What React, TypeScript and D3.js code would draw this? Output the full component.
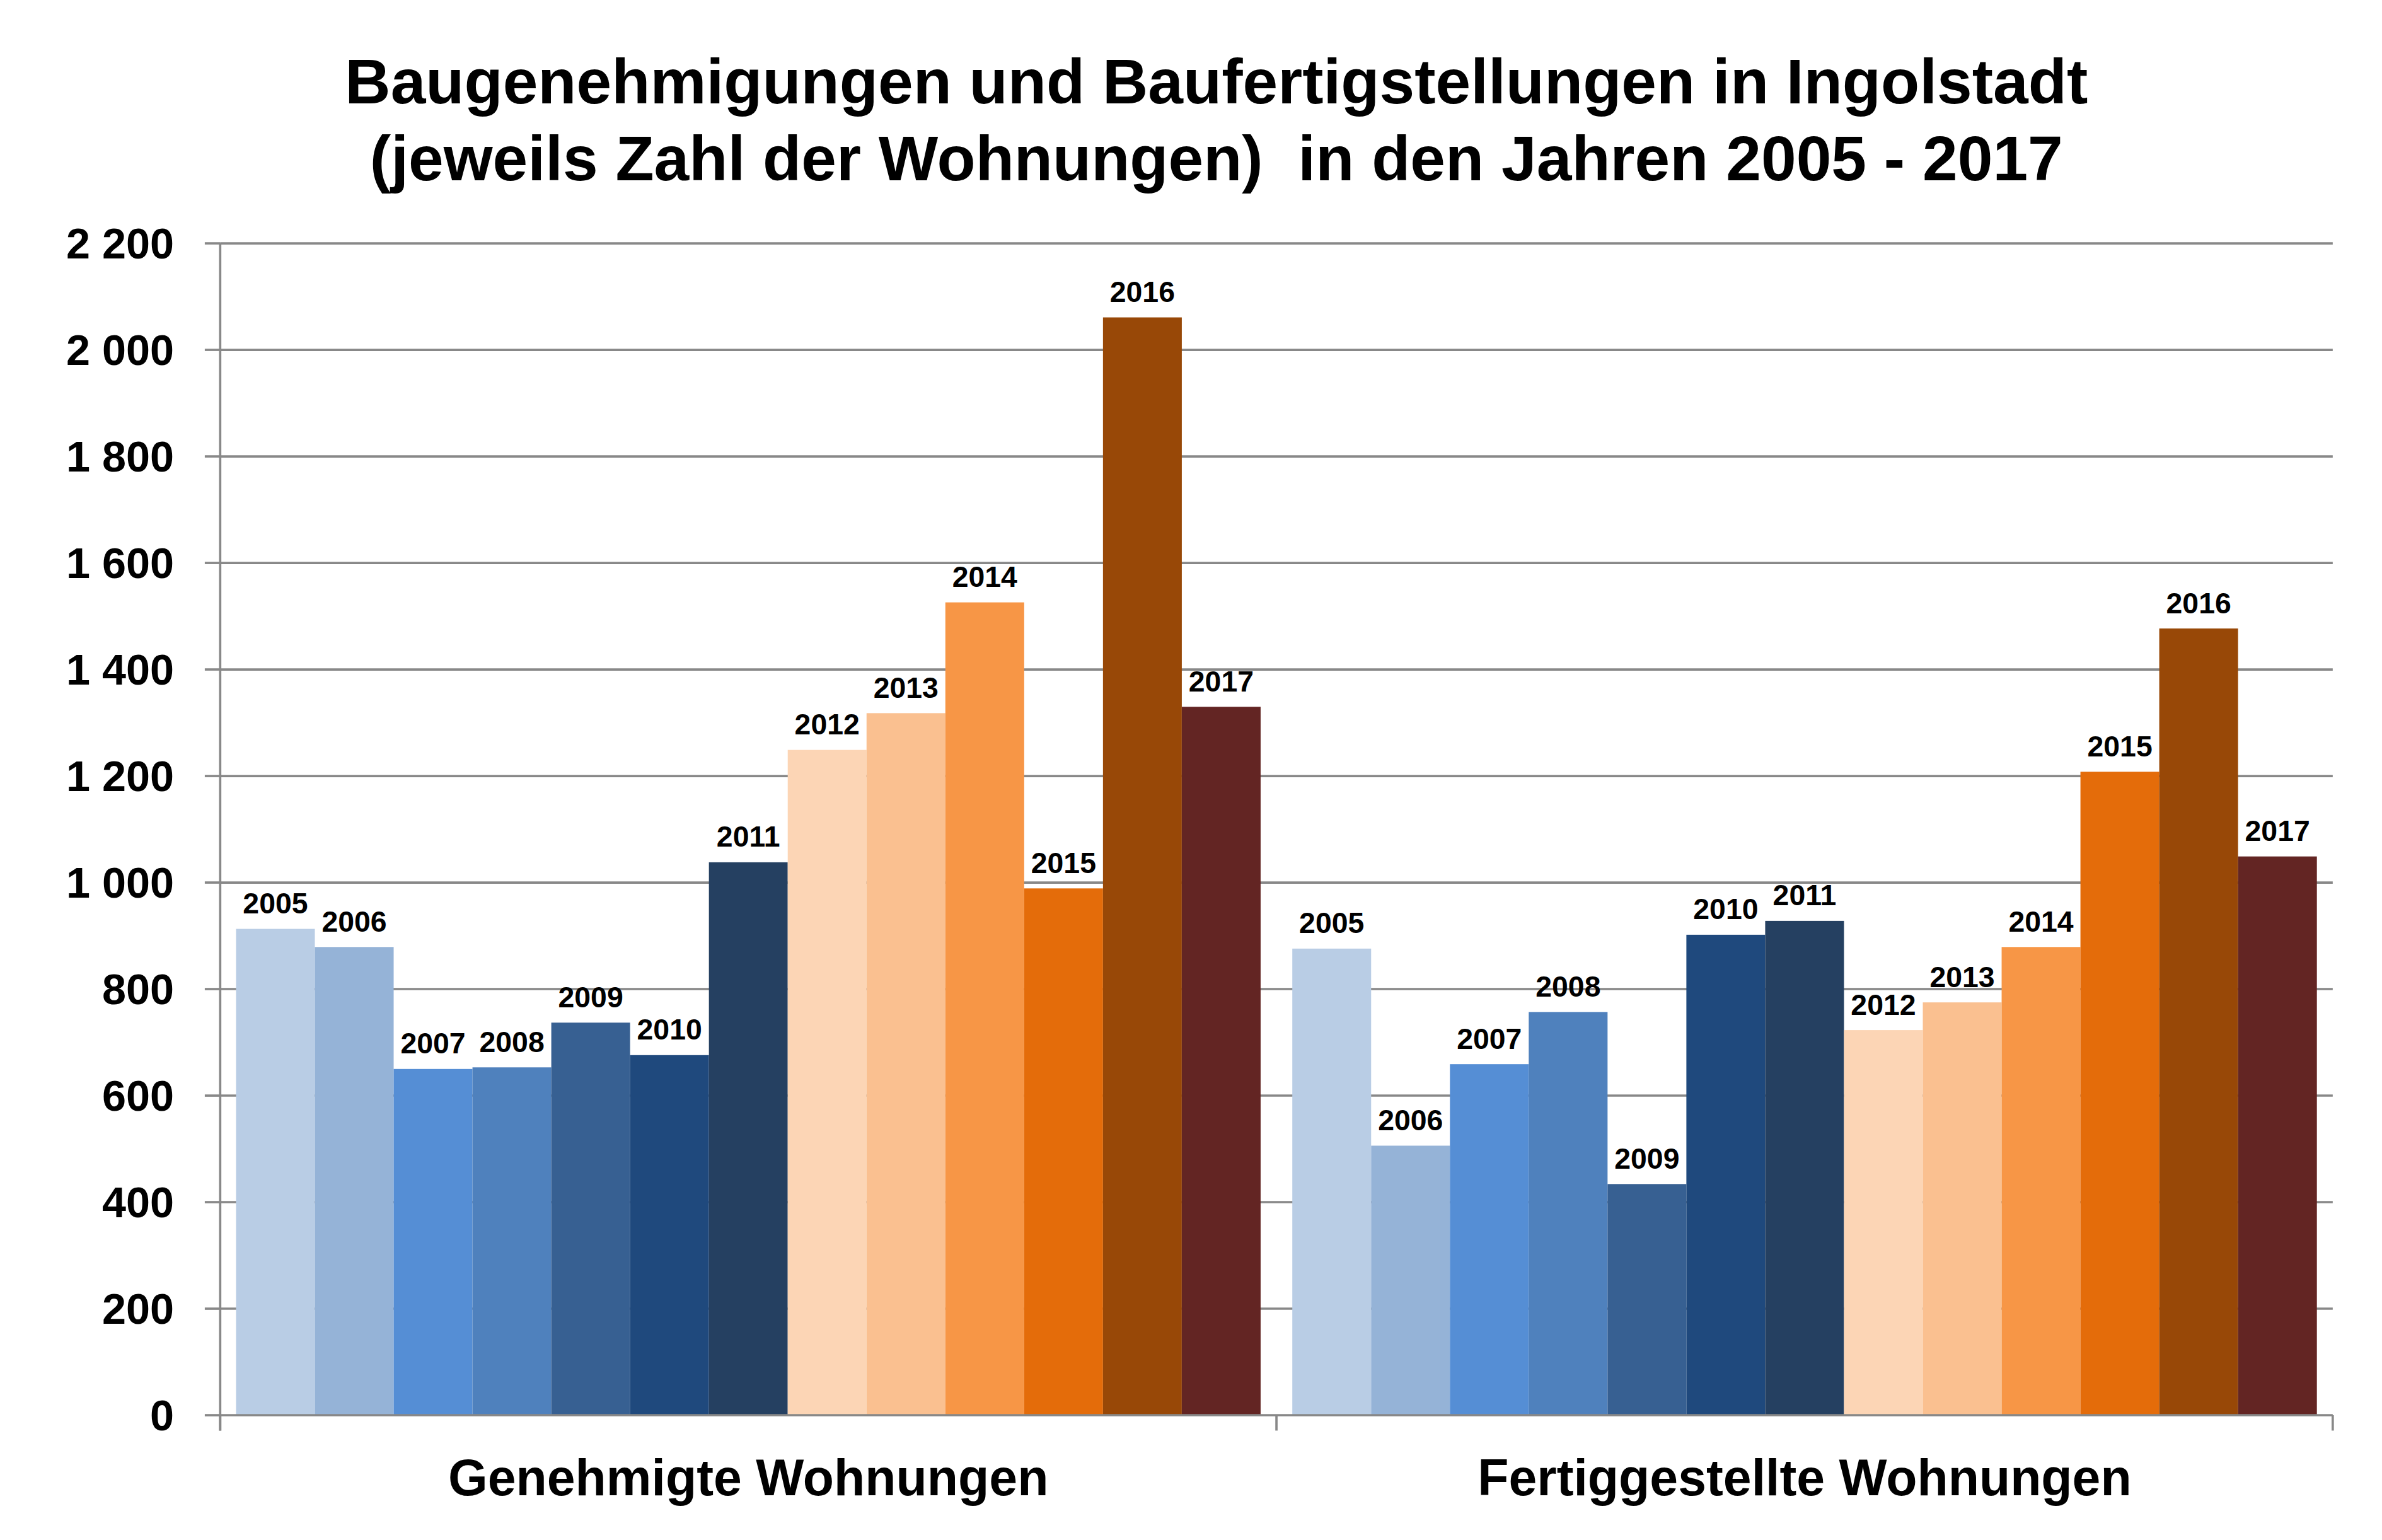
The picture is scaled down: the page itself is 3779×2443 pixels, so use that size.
import React from "react";
import * as d3 from "d3";

const categories = ["Genehmigte Wohnungen", "Fertiggestellte Wohnungen"];
const years = ["2005", "2006", "2007", "2008", "2009", "2010", "2011", "2012", "2013", "2014", "2015", "2016", "2017"];
const genehmigt = [913, 879, 650, 653, 737, 676, 1038, 1249, 1318, 1526, 989, 2061, 1330];
const fertig = [876, 506, 659, 757, 434, 902, 928, 723, 775, 879, 1208, 1477, 1049];
const colors = ["#b9cde5", "#95b3d7", "#558ed5", "#4f81bd", "#376092", "#1f497d", "#254061",
  "#fcd5b5", "#fac090", "#f79646", "#e46c0a", "#984807", "#632523"];
const yTicks = [0, 200, 400, 600, 800, 1000, 1200, 1400, 1600, 1800, 2000, 2200];

const W = 1547, H = 1000;
const left = 143, right = 1515, top = 158, bottom = 919;

const App: React.FC = () => {
  const series = [genehmigt, fertig];
  const x0 = d3.scaleBand<string>().domain(categories).range([left, right]).paddingInner(0.03).paddingOuter(0.015);
  const x1 = d3.scaleBand<string>().domain(years).range([0, x0.bandwidth()]);
  const y = d3.scaleLinear().domain([0, 2200]).range([bottom, top]);
  const fmt = (v: number) => (v >= 1000 ? `${Math.floor(v / 1000)} ${String(v % 1000).padStart(3, "0")}` : `${v}`);
  const font = "'Liberation Sans', Arial, sans-serif";

  return (
    <svg viewBox={`0 0 ${W} ${H}`} width={3779} height={2443}
      style={{ position: "absolute", left: 0, top: 0, background: "#fff" }} fontFamily={font}>
      <text x={790} y={67} textAnchor="middle" fontSize={41} fontWeight="bold">Baugenehmigungen und Baufertigstellungen in Ingolstadt</text>
      <text x={790} y={117} textAnchor="middle" fontSize={41} fontWeight="bold" style={{ whiteSpace: "pre" }}>(jeweils Zahl der Wohnungen)  in den Jahren 2005 - 2017</text>
      {yTicks.map((t) => (
        <g key={t}>
          {t > 0 && <line x1={left} x2={right} y1={y(t)} y2={y(t)} stroke="#888" strokeWidth={1.5} />}
          <line x1={left - 10} x2={left} y1={y(t)} y2={y(t)} stroke="#888" strokeWidth={1.5} />
          <text x={113} y={y(t) + 10} textAnchor="end" fontSize={28} fontWeight="bold">{fmt(t)}</text>
        </g>
      ))}
      {categories.map((c, ci) => (
        <g key={c} transform={`translate(${x0(c)},0)`}>
          {series[ci].map((v, i) => (
            <g key={years[i]}>
              <rect x={x1(years[i])} y={y(v)} width={x1.bandwidth()} height={bottom - y(v)} fill={colors[i]} />
              <text x={(x1(years[i]) as number) + x1.bandwidth() / 2} y={y(v) - 10} textAnchor="middle" fontSize={19} fontWeight="bold">{years[i]}</text>
            </g>
          ))}
        </g>
      ))}
      <line x1={left} x2={left} y1={top} y2={bottom + 10} stroke="#888" strokeWidth={1.5} />
      <line x1={left} x2={right} y1={bottom} y2={bottom} stroke="#888" strokeWidth={1.5} />
      {[left, (left + right) / 2, right].map((xx) => (
        <line key={xx} x1={xx} x2={xx} y1={bottom} y2={bottom + 10} stroke="#888" strokeWidth={1.5} />
      ))}
      {categories.map((c) => (
        <text key={c} x={(x0(c) as number) + x0.bandwidth() / 2} y={971} textAnchor="middle" fontSize={33} fontWeight="bold">{c}</text>
      ))}
    </svg>
  );
};

export default App;
